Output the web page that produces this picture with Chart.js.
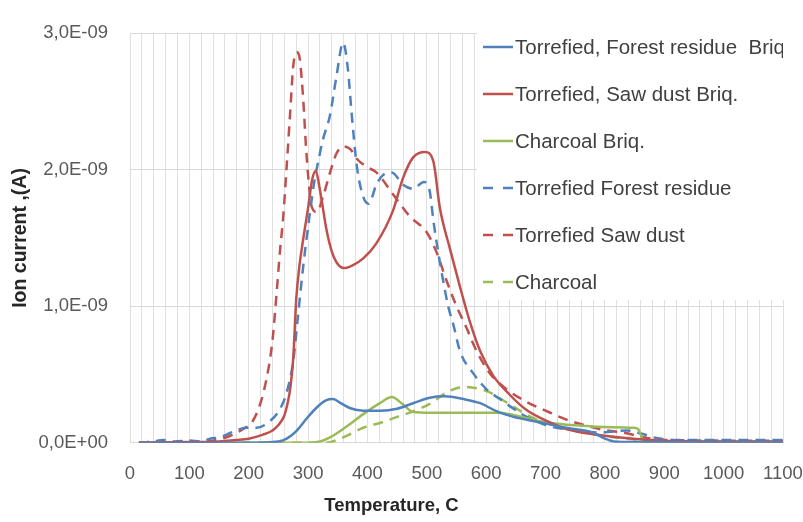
<!DOCTYPE html>
<html>
<head>
<meta charset="utf-8">
<script src="https://cdn.jsdelivr.net/npm/chart.js@4.4.0/dist/chart.umd.min.js"></script>
<style>
  html, body { margin: 0; padding: 0; background: #fff; }
  #wrap { width: 803px; height: 522px; }
</style>
</head>
<body>
<div id="wrap"><canvas id="ionChart" width="803" height="522"></canvas></div>
<script>
// values are ion current in units of 1E-09 A, temperatures in C

// Torrefied, Forest residue Briq (solid blue)
const forestBriqT = [15, 200, 250, 264, 281, 298, 315, 330, 342, 355, 370, 393, 421, 450, 477, 505, 530, 562, 590, 618, 646, 679, 735, 780, 800, 815, 850, 1100];
const forestBriqY = [0, 0, 0.01, 0.03, 0.09, 0.18, 0.26, 0.31, 0.32, 0.29, 0.255, 0.235, 0.235, 0.25, 0.29, 0.33, 0.34, 0.32, 0.29, 0.23, 0.19, 0.16, 0.11, 0.075, 0.03, 0.01, 0.005, 0.005];

// Torrefied, Saw dust Briq. (solid red)
const sawBriqT = [15, 100, 150, 180, 200, 224, 240, 250, 260, 265, 270, 275, 280, 285, 290, 300, 307, 313, 320, 331, 340, 348, 360, 375, 393, 415, 443, 460, 477, 497, 511, 522, 539, 556, 573, 590, 612, 640, 668, 702, 735, 769, 803, 848, 900, 1000, 1100];
const sawBriqY = [0, 0.005, 0.01, 0.02, 0.03, 0.06, 0.09, 0.13, 0.2, 0.28, 0.4, 0.62, 1.05, 1.28, 1.44, 1.72, 1.93, 1.99, 1.85, 1.56, 1.4, 1.32, 1.28, 1.3, 1.35, 1.46, 1.70, 1.94, 2.09, 2.13, 2.06, 1.72, 1.42, 1.14, 0.88, 0.67, 0.49, 0.35, 0.24, 0.16, 0.10, 0.07, 0.05, 0.03, 0.015, 0.01, 0.01];

// Charcoal Briq. (solid green)
const charBriqT = [15, 300, 320, 337, 365, 393, 421, 441, 460, 477, 505, 560, 618, 640, 668, 708, 763, 800, 848, 856, 866, 900, 1100];
const charBriqY = [0, 0, 0.01, 0.04, 0.12, 0.21, 0.29, 0.335, 0.28, 0.225, 0.22, 0.22, 0.22, 0.21, 0.18, 0.145, 0.125, 0.115, 0.11, 0.10, 0.01, 0.005, 0.005];

// Torrefied Forest residue (dashed blue)
const forestT = [15, 40, 56, 75, 100, 120, 135, 150, 168, 185, 197, 213, 236, 253, 264, 275, 283, 292, 303, 310, 318, 325, 337, 348, 359, 367, 373, 382, 393, 402, 415, 426, 441, 460, 477, 495, 505, 511, 519, 527, 536, 545, 556, 578, 601, 623, 646, 668, 708, 753, 792, 837, 859, 887, 921, 1100];
const forestY = [0, 0.01, 0.02, 0.01, 0.015, 0.01, 0.03, 0.04, 0.07, 0.1, 0.11, 0.11, 0.16, 0.25, 0.37, 0.6, 0.93, 1.3, 1.68, 1.9, 2.08, 2.22, 2.4, 2.69, 2.93, 2.74, 2.43, 2.03, 1.8, 1.75, 1.89, 1.96, 1.98, 1.89, 1.86, 1.91, 1.84, 1.63, 1.4, 1.2, 1.0, 0.86, 0.67, 0.51, 0.39, 0.32, 0.25, 0.19, 0.12, 0.09, 0.075, 0.09, 0.07, 0.035, 0.02, 0.02];

// Torrefied Saw dust (dashed red)
const sawT = [15, 50, 70, 100, 120, 140, 168, 190, 207, 226, 240, 247, 253, 258, 264, 270, 275, 281, 286, 292, 296, 300, 306, 315, 325, 337, 348, 359, 371, 382, 399, 415, 443, 471, 500, 516, 533, 550, 567, 584, 606, 635, 668, 708, 735, 769, 803, 837, 865, 904, 1100];
const sawY = [0, 0.01, 0, 0.015, 0.005, 0.015, 0.05, 0.1, 0.16, 0.39, 0.75, 1.1, 1.42, 1.65, 2.03, 2.43, 2.76, 2.86, 2.81, 2.5, 2.2, 1.96, 1.73, 1.69, 1.8, 1.98, 2.12, 2.17, 2.15, 2.08, 2.02, 1.98, 1.82, 1.66, 1.54, 1.40, 1.19, 1.0, 0.84, 0.67, 0.51, 0.39, 0.30, 0.22, 0.17, 0.125, 0.09, 0.07, 0.04, 0.02, 0.015];

// Charcoal (dashed green)
const charT = [15, 330, 354, 393, 421, 450, 477, 505, 534, 562, 584, 606, 629, 651, 680, 720, 760, 800, 850, 900, 1100];
const charY = [0, 0, 0.03, 0.11, 0.145, 0.19, 0.23, 0.285, 0.37, 0.41, 0.40, 0.37, 0.31, 0.25, 0.18, 0.12, 0.08, 0.05, 0.025, 0.01, 0.005];

const xTickStep = 20;
const xLabelStep = 100;
const yTicks = [0, 1, 2, 3];

const BLUE = '#4F81BD';
const RED = '#C0504D';
const GREEN = '#9BBB59';
const DASH = [10, 7];
const FONT = '"Liberation Sans", Arial, sans-serif';

function pts(xs, ys) {
    return xs.map(function(x, i) { return { x: x, y: ys[i] }; });
}

function series(label, xs, ys, color, dashed) {
    return {
        label: label,
        data: pts(xs, ys),
        borderColor: color,
        backgroundColor: color,
        borderWidth: 2.5,
        borderDash: dashed ? DASH : [],
        pointRadius: 0,
        cubicInterpolationMode: 'monotone',
        fill: false
    };
}

function fmtTick(v) {
    if (v === 0) return '0,0E+00';
    return v.toFixed(1).replace('.', ',') + 'E-09';
}

// legend drawn inside the plot, on a white box like the original
const insideLegend = {
    id: 'insideLegend',
    beforeDatasetsDraw: function(chart) {
        const ctx = chart.ctx;
        const area = chart.chartArea;
        const boxLeft = 477, boxTop = 30, boxBottom = 300;
        ctx.save();
        ctx.fillStyle = '#ffffff';
        ctx.fillRect(boxLeft, boxTop, area.right - boxLeft + 1, boxBottom - boxTop);
        ctx.beginPath();
        ctx.rect(boxLeft, 0, area.right - boxLeft, chart.height);
        ctx.clip();
        ctx.font = '20.5px ' + FONT;
        ctx.textBaseline = 'middle';
        ctx.textAlign = 'left';
        chart.data.datasets.forEach(function(ds, i) {
            const y = 47 + i * 47;
            ctx.strokeStyle = ds.borderColor;
            ctx.lineWidth = 2.5;
            ctx.setLineDash(ds.borderDash.length ? [10, 10] : []);
            ctx.beginPath();
            ctx.moveTo(483, y);
            ctx.lineTo(513, y);
            ctx.stroke();
            ctx.setLineDash([]);
            ctx.fillStyle = '#404040';
            ctx.fillText(ds.label, 515, y + 1);
        });
        ctx.restore();
    }
};

const ctx = document.getElementById('ionChart').getContext('2d');
new Chart(ctx, {
    type: 'line',
    data: {
        datasets: [
            series('Torrefied, Forest residue  Briq', forestBriqT, forestBriqY, BLUE, false),
            series('Torrefied, Saw dust Briq.', sawBriqT, sawBriqY, RED, false),
            series('Charcoal Briq.', charBriqT, charBriqY, GREEN, false),
            series('Torrefied Forest residue', forestT, forestY, BLUE, true),
            series('Torrefied Saw dust', sawT, sawY, RED, true),
            series('Charcoal', charT, charY, GREEN, true)
        ]
    },
    options: {
        responsive: false,
        animation: false,
        devicePixelRatio: 1,
        layout: { padding: { left: 0, right: 20, top: 16, bottom: 0 } },
        plugins: {
            legend: { display: false },
            tooltip: { enabled: false },
            title: {
                display: true,
                position: 'bottom',
                text: 'Temperature, C',
                color: '#262626',
                font: { family: FONT, size: 18.5, weight: 'bold' },
                padding: { top: 0, bottom: 5 }
            }
        },
        scales: {
            x: {
                type: 'linear',
                min: 0,
                max: 1100,
                grid: { color: '#e0e0e0', lineWidth: 1, drawTicks: false },
                border: { display: true, color: '#d9d9d9' },
                ticks: {
                    stepSize: xTickStep,
                    maxTicksLimit: 60,
                    autoSkip: false,
                    maxRotation: 0,
                    padding: 20,
                    color: '#595959',
                    font: { family: FONT, size: 18.5 },
                    callback: function(v) { return v % xLabelStep === 0 ? String(v) : ''; }
                },
                afterFit: function(s) { s.height = 52; s.paddingLeft = 0; s.paddingRight = 0; }
            },
            y: {
                min: yTicks[0],
                max: yTicks[yTicks.length - 1],
                grid: { color: '#d9d9d9', lineWidth: 1, drawTicks: false },
                border: { display: false },
                afterBuildTicks: function(s) { s.ticks = yTicks.map(function(v) { return { value: v }; }); },
                ticks: {
                    padding: 22,
                    color: '#595959',
                    font: { family: FONT, size: 18.5 },
                    callback: function(v) { return fmtTick(v); }
                },
                title: {
                    display: true,
                    text: 'Ion current ,(A)',
                    color: '#262626',
                    font: { family: FONT, size: 19.5, weight: 'bold' },
                    padding: { top: 9, bottom: 0 }
                },
                afterFit: function(s) { s.width = 130; }
            }
        }
    },
    plugins: [insideLegend]
});
</script>
</body>
</html>
